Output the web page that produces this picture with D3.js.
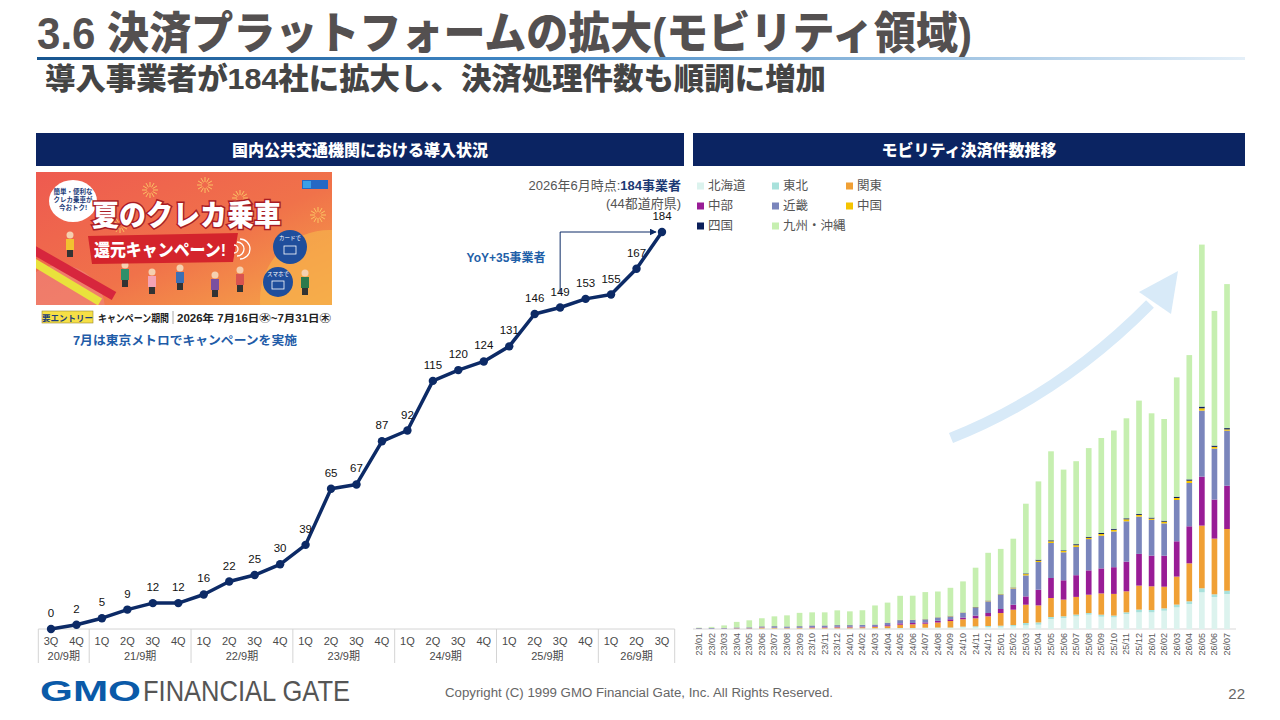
<!DOCTYPE html>
<html lang="ja">
<head>
<meta charset="utf-8">
<script src="https://cdn.jsdelivr.net/npm/d3@7"></script>
<style>
  html, body { margin: 0; padding: 0; background: #fff; }
  svg { display: block; font-family: "Liberation Sans", "Noto Sans CJK JP", sans-serif; }
</style>
</head>
<body>
<div id="chart"></div>
<script>
// ---- Data: left chart (導入事業者数) ----
const quarters = ['3Q','4Q','1Q','2Q','3Q','4Q','1Q','2Q','3Q','4Q','1Q','2Q','3Q','4Q',
  '1Q','2Q','3Q','4Q','1Q','2Q','3Q','4Q','1Q','2Q','3Q'];
const periods = ['20/9期','21/9期','22/9期','23/9期','24/9期','25/9期','26/9期'];
const periodSizes = [2, 4, 4, 4, 4, 4, 3];
const operators = [0,2,5,9,12,12,16,22,25,30,39,65,67,87,92,115,120,124,131,146,149,153,155,167,184];

// ---- Data: right chart (モビリティ決済件数, relative units) ----
const months = ['23/01','23/02','23/03','23/04','23/05','23/06','23/07','23/08','23/09','23/10','23/11','23/12',
  '24/01','24/02','24/03','24/04','24/05','24/06','24/07','24/08','24/09','24/10','24/11','24/12',
  '25/01','25/02','25/03','25/04','25/05','25/06','25/07','25/08','25/09','25/10','25/11','25/12',
  '26/01','26/02','26/03','26/04','26/05','26/06','26/07'];
const regions = ['北海道','東北','関東','中部','近畿','中国','四国','九州・沖縄'];
const hokkaido = [0.1,0.1,0.1,0.2,0.2,0.3,0.3,0.3,0.3,0.3,0.3,0.4,0.4,0.5,0.5,0.5,0.7,0.7,1,1,1,1.7,1.7,2,2.3,2.7,3.7,4.3,10,11,12.7,14.3,12.3,11.7,15,16.7,16.7,18.3,21.7,25,36.7,32,35];
const tohoku = [0.1,0.1,0.1,0.1,0.1,0.2,0.2,0.2,0.2,0.2,0.2,0.2,0.2,0.2,0.2,0.3,0.3,0.3,0.3,0.5,0.5,0.7,1,1,1,1.3,2.3,2.3,2,1.7,1.7,1.7,2,1.7,1.7,2.7,2.3,2.3,2.7,2.7,4,2.7,3.3];
const kanto = [0.1,0.1,0.2,0.3,0.3,0.8,0.5,0.4,0.5,0.8,0.8,1,1,1,1.3,2,3.3,3.7,4,5,6.5,7.3,8,9.7,12.7,15.3,18.3,17,19,16.7,17.7,18.3,21.3,21.7,21,24,23.7,21.7,28,38,62.7,55.7,61.7];
const chubu = [0.1,0.1,0.1,0.2,0.2,0.3,0.3,0.3,0.3,0.5,0.5,0.6,0.6,0.7,0.7,1,1.3,1.3,1.3,1.7,1.7,1.7,2.7,3.3,4,5,8.3,15.7,20,19.3,21.7,24.3,25,26.7,29.7,31.7,30.7,31,35.3,37,49,39,43.3];
const kinki = [0.5,0.6,0.5,0.7,0.8,1,1.5,1.3,1.5,1.7,1.7,1.7,1.7,1.7,1.7,2.3,3.3,3,3,3.3,3,4.7,8,11.7,14,16.3,21,27.7,35,28,28.3,31.3,32.7,35.7,40.3,37.3,35.7,32.3,41.3,43.3,66,51,55];
const chugoku = [0.05,0.05,0.05,0.05,0.05,0.1,0.1,0.1,0.1,0.1,0.1,0.1,0.1,0.1,0.1,0.2,0.2,0.2,0.2,0.2,0.3,0.3,0.3,0.5,0.5,0.7,1.3,1.3,1.7,1.3,1.7,1.3,1.7,1.7,2,1.7,1.3,1.7,2,2.3,2.3,1.7,1.3];
const shikoku = [0.05,0.05,0.05,0.05,0.05,0.05,0.05,0.05,0.05,0.05,0.05,0.05,0.05,0.05,0.05,0.1,0.1,0.1,0.1,0.1,0.2,0.2,0.3,0.3,0.3,0.3,0.7,1,1,0.7,1,1,1,1,1,1,1,1,1.3,1.3,1.7,1.3,1.3];
const kyushu = [0.4,1,2.5,5.5,7,8,9.7,11,13.2,13,13,14.6,13.6,14.5,19,20,24,24,27,25.7,28,31,39.3,47.7,45.3,48.7,69.7,78.3,89,80.7,83,88.7,95,98.3,100,113.3,104.3,101.7,119.3,124.3,162,134.7,144];

const regionColors = ['#dcf3ee','#a8e1db','#f0a035','#991c96','#7a85bc','#f5c400','#0b1f5a','#c6efb0'];

const width = 1280, height = 720;
const navy = '#0b2462';

const svg = d3.select('#chart').append('svg')
  .attr('width', width)
  .attr('height', height);

const defs = svg.append('defs');

// ---- Title ----
svg.append('text')
  .attr('x', 37).attr('y', 49)
  .attr('font-size', 44).attr('font-weight', 900)
  .attr('fill', '#545050')
  .attr('textLength', 935).attr('lengthAdjust', 'spacingAndGlyphs')
  .text('3.6  決済プラットフォームの拡大(モビリティ領域)');

const lineGrad = defs.append('linearGradient').attr('id', 'titleLine');
lineGrad.append('stop').attr('offset', '0%').attr('stop-color', '#17558f');
lineGrad.append('stop').attr('offset', '40%').attr('stop-color', '#3f86c4');
lineGrad.append('stop').attr('offset', '100%').attr('stop-color', '#e4eff8');
svg.append('rect')
  .attr('x', 37).attr('y', 57).attr('width', 1208).attr('height', 3)
  .attr('fill', 'url(#titleLine)');

svg.append('text')
  .attr('x', 45).attr('y', 89)
  .attr('font-size', 30).attr('font-weight', 900)
  .attr('fill', '#444')
  .attr('textLength', 781).attr('lengthAdjust', 'spacingAndGlyphs')
  .text('導入事業者が184社に拡大し、決済処理件数も順調に増加');

// ---- Panel headers ----
const headers = [
  { x: 36, w: 648, label: '国内公共交通機関における導入状況' },
  { x: 693, w: 552, label: 'モビリティ決済件数推移' }
];
headers.forEach(h => {
  svg.append('rect')
    .attr('x', h.x).attr('y', 133).attr('width', h.w).attr('height', 33)
    .attr('fill', navy);
  svg.append('text')
    .attr('x', h.x + h.w / 2).attr('y', 150)
    .attr('text-anchor', 'middle').attr('dominant-baseline', 'central')
    .attr('font-size', 16).attr('font-weight', 900).attr('fill', '#fff')
    .text(h.label);
});

// ---- Campaign banner (approximation of the picture) ----
const banner = svg.append('g');
const bGrad = defs.append('linearGradient').attr('id', 'bannerGrad')
  .attr('x1', 0).attr('y1', 0).attr('x2', 1).attr('y2', 1);
bGrad.append('stop').attr('offset', '0%').attr('stop-color', '#ee5a50');
bGrad.append('stop').attr('offset', '55%').attr('stop-color', '#f0724a');
bGrad.append('stop').attr('offset', '100%').attr('stop-color', '#f6a748');
defs.append('clipPath').attr('id', 'bannerClip')
  .append('rect').attr('x', 36).attr('y', 172).attr('width', 296).attr('height', 133);

banner.append('rect')
  .attr('x', 36).attr('y', 172).attr('width', 296).attr('height', 133)
  .attr('fill', 'url(#bannerGrad)');
const bClip = banner.append('g').attr('clip-path', 'url(#bannerClip)');
bClip.append('circle').attr('cx', 330).attr('cy', 300).attr('r', 70).attr('fill', '#f7b04c').attr('opacity', 0.7);
bClip.append('circle').attr('cx', 60).attr('cy', 310).attr('r', 45).attr('fill', '#f08a8a').attr('opacity', 0.5);
// fireworks
[[150, 190], [205, 185], [240, 198], [318, 215], [120, 225]].forEach(([cx, cy]) => {
  d3.range(12).forEach(i => {
    const a = i * Math.PI / 6;
    bClip.append('line')
      .attr('x1', cx + Math.cos(a) * 3).attr('y1', cy + Math.sin(a) * 3)
      .attr('x2', cx + Math.cos(a) * 8).attr('y2', cy + Math.sin(a) * 8)
      .attr('stroke', '#ffd86b').attr('stroke-width', 1).attr('opacity', 0.8);
  });
});
// trains
bClip.append('line').attr('x1', 30).attr('y1', 248).attr('x2', 114).attr('y2', 296)
  .attr('stroke', '#d7263d').attr('stroke-width', 9);
bClip.append('line').attr('x1', 30).attr('y1', 260).attr('x2', 100).attr('y2', 302)
  .attr('stroke', '#e9e23c').attr('stroke-width', 8);
// people
const people = [[70, 245, '#f2c230'], [125, 275, '#2f8f6a'], [152, 282, '#f4a3b5'], [180, 278, '#3c6fb4'],
  [215, 285, '#7b4fa0'], [240, 280, '#d9534f'], [305, 283, '#2d7a4c']];
people.forEach(([px, py, c]) => {
  bClip.append('circle').attr('cx', px).attr('cy', py - 10).attr('r', 3.5).attr('fill', '#f5d0b0');
  bClip.append('rect').attr('x', px - 4).attr('y', py - 6).attr('width', 8).attr('height', 11).attr('fill', c);
  bClip.append('rect').attr('x', px - 3).attr('y', py + 5).attr('width', 6).attr('height', 7).attr('fill', '#333');
});
// speech bubble
banner.append('ellipse').attr('cx', 73).attr('cy', 201).attr('rx', 24).attr('ry', 21).attr('fill', '#fff');
['簡単・便利な', 'クレカ乗車が', '今おトク!'].forEach((t, i) => {
  banner.append('text')
    .attr('x', 73).attr('y', 194 + i * 8)
    .attr('text-anchor', 'middle').attr('font-size', 6.5).attr('font-weight', 700)
    .attr('fill', '#1d3d7a').text(t);
});
// ribbon + headline
banner.append('path')
  .attr('d', 'M88,236 L238,233 L233,262 L92,264 Z')
  .attr('fill', '#d4242c');
banner.append('text')
  .attr('x', 92).attr('y', 226)
  .attr('font-size', 29).attr('font-weight', 900)
  .attr('fill', '#fff').attr('stroke', '#a81c24').attr('stroke-width', 3)
  .attr('paint-order', 'stroke')
  .attr('textLength', 189).attr('lengthAdjust', 'spacingAndGlyphs')
  .text('夏のクレカ乗車');
banner.append('text')
  .attr('x', 94).attr('y', 256)
  .attr('font-size', 17).attr('font-weight', 900).attr('fill', '#fff')
  .attr('textLength', 132).attr('lengthAdjust', 'spacingAndGlyphs')
  .text('還元キャンペーン!');
[4, 7, 10].forEach(r => {
  banner.append('path')
    .attr('d', `M${230 + r},${249 - r} A${r},${r} 0 0 1 ${230 + r},${249 + r}`)
    .attr('fill', 'none').attr('stroke', '#fff').attr('stroke-width', 1.3);
});
// card / phone bubbles
[[290, 247, 17, 'カードで'], [278, 282, 15, 'スマホで']].forEach(([cx, cy, r, t]) => {
  banner.append('circle').attr('cx', cx).attr('cy', cy).attr('r', r).attr('fill', '#1f4e9c');
  banner.append('text').attr('x', cx).attr('y', cy - r / 2 + 1)
    .attr('text-anchor', 'middle').attr('font-size', 5.5).attr('fill', '#fff').text(t);
  banner.append('rect').attr('x', cx - 6).attr('y', cy - 1).attr('width', 12).attr('height', 8)
    .attr('fill', 'none').attr('stroke', '#fff').attr('stroke-width', 0.8);
});
// logo
banner.append('rect').attr('x', 302).attr('y', 180).attr('width', 26).attr('height', 9).attr('fill', '#2568c4');
banner.append('rect').attr('x', 303).attr('y', 181).attr('width', 8).attr('height', 7).attr('fill', '#3aa0e8');

// entry strip
svg.append('rect')
  .attr('x', 42).attr('y', 311).attr('width', 51).attr('height', 12)
  .attr('fill', '#f6df46').attr('stroke', '#9a8a30').attr('stroke-width', 0.6);
svg.append('text')
  .attr('x', 67.5).attr('y', 320.5).attr('text-anchor', 'middle')
  .attr('font-size', 8.5).attr('font-weight', 700).attr('fill', '#1d3d7a')
  .text('要エントリー');
svg.append('text')
  .attr('x', 98).attr('y', 321.5)
  .attr('font-size', 10.5).attr('font-weight', 700).attr('fill', '#222')
  .attr('textLength', 71).attr('lengthAdjust', 'spacingAndGlyphs')
  .text('キャンペーン期間');
svg.append('line')
  .attr('x1', 173).attr('x2', 173).attr('y1', 311).attr('y2', 324)
  .attr('stroke', '#aaa');
svg.append('text')
  .attr('x', 177).attr('y', 321.5)
  .attr('font-size', 10.5).attr('font-weight', 700).attr('fill', '#222')
  .attr('textLength', 154).attr('lengthAdjust', 'spacingAndGlyphs')
  .text('2026年 7月16日㊌~7月31日㊍');

svg.append('text')
  .attr('x', 185).attr('y', 345)
  .attr('text-anchor', 'middle')
  .attr('font-size', 12.5).attr('font-weight', 700).attr('fill', '#1f5ca8')
  .attr('textLength', 224).attr('lengthAdjust', 'spacingAndGlyphs')
  .text('7月は東京メトロでキャンペーンを実施');

// ---- Left chart: line ----
const lx = d3.scaleBand()
  .domain(d3.range(operators.length))
  .range([38.3, 674.7]);
const ly = d3.scaleLinear()
  .domain([0, 184])
  .range([629, 232]);
const cx = i => lx(i) + lx.bandwidth() / 2;

const left = svg.append('g');

// category table
const tableTop = 629, tableBottom = 663;
left.append('line')
  .attr('x1', 38.3).attr('x2', 674.7).attr('y1', tableTop).attr('y2', tableTop)
  .attr('stroke', '#d4d4d4');
let start = 0;
const groupEdges = [0];
periodSizes.forEach(n => { start += n; groupEdges.push(start); });
groupEdges.forEach(e => {
  const x = e === operators.length ? lx.range()[1] : lx(e);
  left.append('line')
    .attr('x1', x).attr('x2', x).attr('y1', tableTop).attr('y2', tableBottom)
    .attr('stroke', '#d4d4d4');
});
left.selectAll('.q')
  .data(quarters)
  .join('text')
  .attr('x', (d, i) => cx(i)).attr('y', 641)
  .attr('text-anchor', 'middle').attr('dominant-baseline', 'central')
  .attr('font-size', 11).attr('fill', '#4a4a4a')
  .text(d => d);
left.selectAll('.p')
  .data(periods)
  .join('text')
  .attr('x', (d, i) => {
    const a = lx(groupEdges[i]);
    const b = groupEdges[i + 1] === operators.length ? lx.range()[1] : lx(groupEdges[i + 1]);
    return (a + b) / 2;
  })
  .attr('y', 656)
  .attr('text-anchor', 'middle').attr('dominant-baseline', 'central')
  .attr('font-size', 11).attr('fill', '#4a4a4a')
  .text(d => d);

const line = d3.line()
  .x((d, i) => cx(i))
  .y(d => ly(d));
left.append('path')
  .datum(operators)
  .attr('d', line)
  .attr('fill', 'none')
  .attr('stroke', '#0c2a66')
  .attr('stroke-width', 3.5)
  .attr('stroke-linejoin', 'round');
left.selectAll('.dot')
  .data(operators)
  .join('circle')
  .attr('cx', (d, i) => cx(i)).attr('cy', d => ly(d))
  .attr('r', 4.2)
  .attr('fill', '#0c2a66');
left.selectAll('.lbl')
  .data(operators)
  .join('text')
  .attr('x', (d, i) => cx(i)).attr('y', d => ly(d) - 12)
  .attr('text-anchor', 'middle')
  .attr('font-size', 11.5).attr('fill', '#111')
  .text(d => d);

// annotation
const note = left.append('text')
  .attr('x', 681).attr('y', 190)
  .attr('text-anchor', 'end')
  .attr('font-size', 13).attr('fill', '#555');
note.append('tspan').text('2026年6月時点:');
note.append('tspan').attr('font-weight', 700).attr('fill', '#1d3a74').text('184事業者');
left.append('text')
  .attr('x', 681).attr('y', 208)
  .attr('text-anchor', 'end')
  .attr('font-size', 13).attr('fill', '#555')
  .text('(44都道府県)');

// YoY arrow
defs.append('marker')
  .attr('id', 'arrow')
  .attr('viewBox', '0 0 10 10').attr('refX', 9).attr('refY', 5)
  .attr('markerWidth', 7).attr('markerHeight', 7)
  .attr('orient', 'auto')
  .append('path').attr('d', 'M0,0 L10,5 L0,10 Z').attr('fill', '#0c2a66');
const yoyX = cx(operators.length - 5);
left.append('path')
  .attr('d', `M${yoyX},${ly(149) - 14} V${ly(184)} H${cx(operators.length - 1) - 6}`)
  .attr('fill', 'none').attr('stroke', '#0c2a66').attr('stroke-width', 1)
  .attr('marker-end', 'url(#arrow)');
left.append('text')
  .attr('x', 506).attr('y', 262)
  .attr('text-anchor', 'middle')
  .attr('font-size', 12).attr('font-weight', 700).attr('fill', '#1f5fa8')
  .text('YoY+35事業者');

// ---- Right chart: stacked bars ----
const seriesList = [hokkaido, tohoku, kanto, chubu, kinki, chugoku, shikoku, kyushu];
const rows = months.map((m, i) => {
  const r = { month: m };
  regions.forEach((k, j) => { r[k] = seriesList[j][i]; });
  return r;
});
const stack = d3.stack().keys(regions)(rows);

const rx = d3.scaleBand()
  .domain(months)
  .range([692.7, 1233.3])
  .paddingInner(0.55)
  .paddingOuter(0.275);
const ry = d3.scaleLinear()
  .domain([0, 400])
  .range([629, 229]);
const color = d3.scaleOrdinal().domain(regions).range(regionColors);

const right = svg.append('g');

// growth arrow
right.append('path')
  .attr('d', 'M951,438 Q1060,395 1150,304')
  .attr('fill', 'none').attr('stroke', '#d8eaf8').attr('stroke-width', 11);
right.append('path')
  .attr('d', 'M1178,271 L1139,292 L1171,314 Z')
  .attr('fill', '#d8eaf8');

right.append('line')
  .attr('x1', 693).attr('x2', 1236).attr('y1', 629).attr('y2', 629)
  .attr('stroke', '#d9d9d9');

right.selectAll('.layer')
  .data(stack)
  .join('g')
  .attr('fill', d => color(d.key))
  .selectAll('rect')
  .data(d => d)
  .join('rect')
  .attr('x', d => rx(d.data.month))
  .attr('width', rx.bandwidth())
  .attr('y', d => ry(d[1]))
  .attr('height', d => ry(d[0]) - ry(d[1]));

right.selectAll('.mlabel')
  .data(months)
  .join('text')
  .attr('transform', d => `translate(${rx(d) + rx.bandwidth() / 2},633) rotate(-90)`)
  .attr('text-anchor', 'end').attr('dominant-baseline', 'central')
  .attr('font-size', 9).attr('fill', '#595959')
  .text(d => d);

// legend
const legend = right.selectAll('.legend')
  .data(regions)
  .join('g')
  .attr('transform', (d, i) => `translate(${[697, 772, 846][i % 3]},${186 + Math.floor(i / 3) * 20})`);
legend.append('rect')
  .attr('x', 0).attr('y', -3.5).attr('width', 7).attr('height', 7)
  .attr('fill', d => color(d));
legend.append('text')
  .attr('x', 11).attr('y', 0)
  .attr('dominant-baseline', 'central')
  .attr('font-size', 12.5).attr('fill', '#555')
  .text(d => d);

// ---- Footer ----
svg.append('text')
  .attr('x', 40).attr('y', 701)
  .attr('font-size', 30).attr('font-weight', 900).attr('fill', '#0a5aa8')
  .attr('textLength', 101).attr('lengthAdjust', 'spacingAndGlyphs')
  .text('GMO');
svg.append('text')
  .attr('x', 143).attr('y', 701)
  .attr('font-size', 30).attr('fill', '#555')
  .attr('textLength', 207).attr('lengthAdjust', 'spacingAndGlyphs')
  .text('FINANCIAL GATE');
svg.append('text')
  .attr('x', 445).attr('y', 697)
  .attr('font-size', 12).attr('fill', '#666')
  .attr('textLength', 388).attr('lengthAdjust', 'spacingAndGlyphs')
  .text('Copyright (C) 1999 GMO Financial Gate, Inc. All Rights Reserved.');
svg.append('text')
  .attr('x', 1245).attr('y', 699)
  .attr('text-anchor', 'end')
  .attr('font-size', 15).attr('fill', '#666')
  .text('22');
</script>
</body>
</html>
